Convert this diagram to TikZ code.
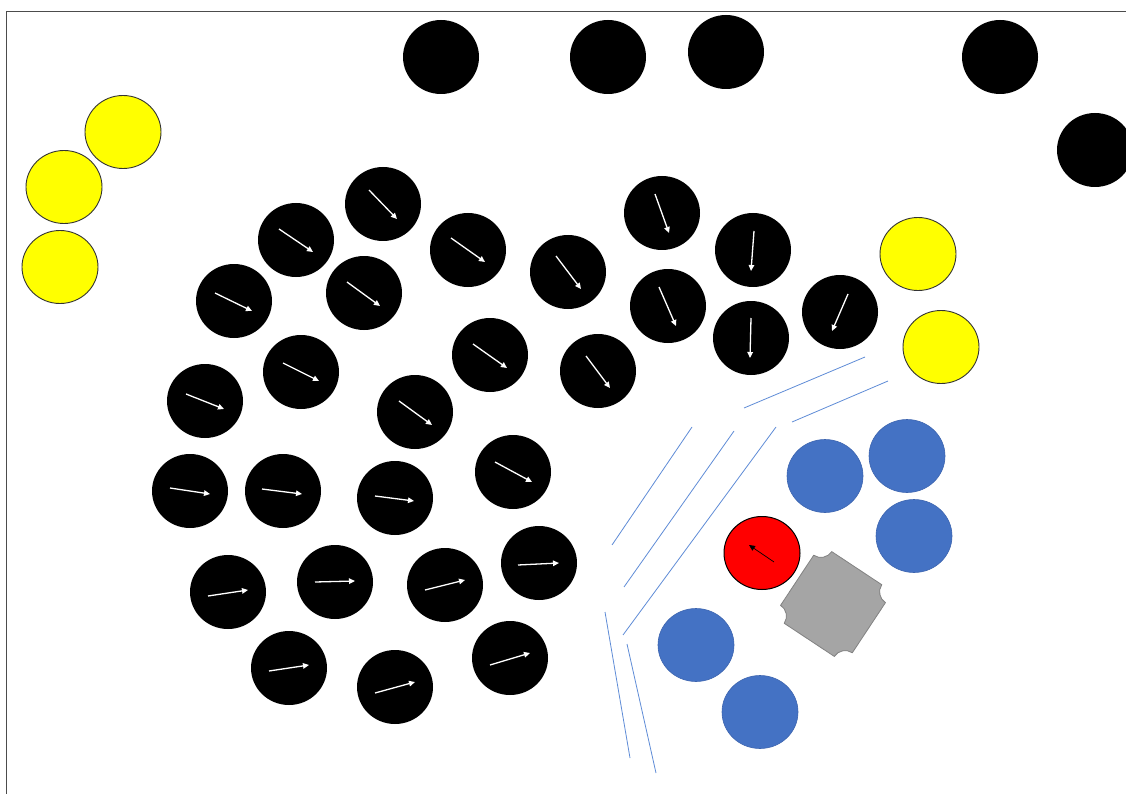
\documentclass[tikz,border=0pt]{standalone}
\usetikzlibrary{arrows.meta}
\definecolor{myyellow}{RGB}{255,255,0}
\definecolor{myblue}{RGB}{68,114,196}
\definecolor{mybluedark}{RGB}{60,100,175}
\definecolor{myline}{RGB}{95,140,215}
\definecolor{mygray}{RGB}{165,165,165}
\definecolor{mygraydark}{RGB}{130,130,130}
\definecolor{myred}{RGB}{255,0,0}
\begin{document}
\begin{tikzpicture}[x=1pt,y=-1pt,
  blackdisc/.style={fill=black},
  yellowdisc/.style={fill=myyellow,draw=black!80,line width=0.9pt},
  bluedisc/.style={fill=myblue,draw=mybluedark,line width=0.6pt},
  reddisc/.style={fill=myred,draw=black,line width=1pt},
  whitearrow/.style={draw=white,line width=1.3pt,-{Triangle[length=6pt,width=5.5pt]}},
  blackarrow/.style={draw=black,line width=0.7pt,-{Triangle[length=6pt,width=5.5pt]}},
  wallline/.style={draw=myline,line width=0.8pt},
  frameline/.style={draw=black!70,line width=0.8pt}]
\useasboundingbox (0,0) rectangle (1126,794);
\fill[white] (0,0) rectangle (1126,794);
% frame
\coordinate (f1) at (6,794);
\coordinate (f2) at (6,11);
\coordinate (f3) at (1126,11);
\draw[frameline] (f1) -- (f2) -- (f3);

% plain black discs
\foreach \x/\y in {441/57, 608/57, 726/52, 1000/57, 1095/150}
  \path[blackdisc] (\x,\y) ellipse (38 and 37);

% yellow discs
\foreach \x/\y in {123/132, 64/187, 60/267, 918/254, 941/347}
  \path[yellowdisc] (\x,\y) ellipse (38 and 36.5);

% black discs with arrows
\foreach \x/\y/\ax/\ay/\bx/\by in {
  383/204/369/190/397/219,
  296/240/279/229/313/252,
  468/250/451/238/485/262,
  568/272/556/256/581/289,
  662/213/655/194/669/233,
  753/250/754/231/751/271,
  234/301/215/293/252/311,
  364/293/347/282/380/306,
  668/306/659/287/676/326,
  751/338/751/318/750/358,
  840/312/848/294/832/331,
  301/372/283/363/319/381,
  490/355/473/344/507/368,
  598/371/586/356/610/388,
  205/401/186/394/224/409,
  415/412/399/401/432/425,
  190/491/170/488/210/494,
  283/491/262/489/302/494,
  395/498/375/496/414/501,
  513/472/495/462/532/482,
  228/592/208/596/248/590,
  335/582/315/582/355/581,
  445/585/425/590/465/580,
  539/563/518/565/559/563,
  289/668/269/671/309/665,
  395/687/375/693/415/682,
  510/658/490/665/530/653}{
  \path[blackdisc] (\x,\y) ellipse (38 and 37);
  \coordinate (s) at (\ax,\ay);
  \coordinate (e) at (\bx,\by);
  \draw[whitearrow] (s) -- (e);
}

% blue discs
\foreach \x/\y in {825/476, 907/456, 914/536, 696/645, 760/712}
  \path[bluedisc] (\x,\y) ellipse (38 and 36.5);

% red disc with arrow
\path[reddisc] (762,553) ellipse (38 and 36.5);
\coordinate (rs) at (774,562);
\coordinate (re) at (749,545);
\draw[blackarrow] (rs) -- (re);

% gray notched square
\begin{scope}[shift={(833,604)},rotate=-33.5]
\path[fill=mygray,draw=mygraydark,line width=0.8pt]
  (-30,43) -- (30,43) arc[start angle=180,end angle=270,radius=13]
  -- (43,-30) arc[start angle=90,end angle=180,radius=13]
  -- (-30,-43) arc[start angle=0,end angle=90,radius=13]
  -- (-43,30) arc[start angle=270,end angle=360,radius=13] -- cycle;
\end{scope}

% wall lines
\foreach \ax/\ay/\bx/\by [count=\i] in {
  865/357/744/408,
  888/381/792/422,
  692/427/612/545,
  734/431/624/587,
  776/427/623/635,
  605/612/630/758,
  627/644/656/773}{
  \coordinate (w\i a) at (\ax,\ay);
  \coordinate (w\i b) at (\bx,\by);
  \draw[wallline] (w\i a) -- (w\i b);
}
\end{tikzpicture}
\end{document}
